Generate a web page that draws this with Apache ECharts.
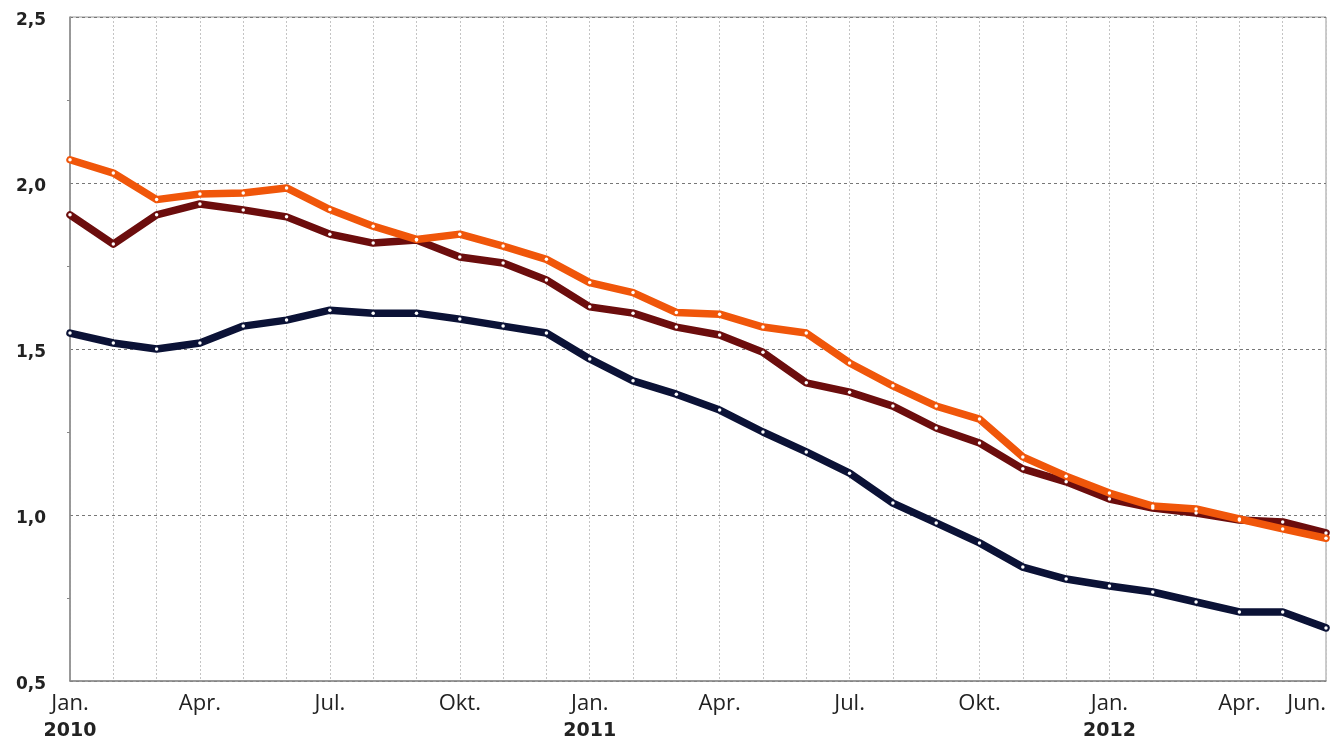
<!DOCTYPE html>
<html>
<head>
<meta charset="utf-8">
<style>
  html, body { margin: 0; padding: 0; background: #fff; }
  #chart { width: 1332px; height: 741px; }
</style>
<script src="https://cdn.jsdelivr.net/npm/echarts@6/dist/echarts.min.js"></script>
</head>
<body>
<div id="chart"></div>
<script>
// months Jan 2010 .. Jun 2012
const months = [
  '2010-01', '2010-02', '2010-03', '2010-04', '2010-05', '2010-06',
  '2010-07', '2010-08', '2010-09', '2010-10', '2010-11', '2010-12',
  '2011-01', '2011-02', '2011-03', '2011-04', '2011-05', '2011-06',
  '2011-07', '2011-08', '2011-09', '2011-10', '2011-11', '2011-12',
  '2012-01', '2012-02', '2012-03', '2012-04', '2012-05', '2012-06'
]

// tick labels shown under the axis (missing = no label)
const monthLabels = {
  '2010-01': 'Jan.\n2010', '2010-04': 'Apr.', '2010-07': 'Jul.', '2010-10': 'Okt.',
  '2011-01': 'Jan.\n2011', '2011-04': 'Apr.', '2011-07': 'Jul.', '2011-10': 'Okt.',
  '2012-01': 'Jan.\n2012', '2012-04': 'Apr.', '2012-06': 'Jun.'
}

const orangeValues = [
  2.07, 2.03, 1.95, 1.967, 1.97, 1.985, 1.92, 1.87, 1.83, 1.846,
  1.81, 1.77, 1.70, 1.67, 1.61, 1.605, 1.566, 1.548, 1.458, 1.389,
  1.328, 1.289, 1.175, 1.117, 1.066, 1.027, 1.018, 0.988, 0.958, 0.93
]

const maroonValues = [
  1.904, 1.816, 1.904, 1.937, 1.919, 1.898, 1.846, 1.819, 1.828, 1.777,
  1.759, 1.708, 1.627, 1.608, 1.566, 1.542, 1.49, 1.398, 1.37, 1.328,
  1.262, 1.217, 1.139, 1.10, 1.048, 1.021, 1.006, 0.985, 0.979, 0.946
]

const navyValues = [
  1.548, 1.518, 1.50, 1.518, 1.569, 1.587, 1.617, 1.608, 1.608, 1.59,
  1.569, 1.548, 1.47, 1.404, 1.364, 1.316, 1.25, 1.19, 1.126, 1.036,
  0.976, 0.916, 0.843, 0.807, 0.786, 0.768, 0.738, 0.708, 0.708, 0.66
]

const yTicks = [0.5, 1.0, 1.5, 2.0, 2.5]

function lineSeries (name, data, color) {
  return {
    name: name,
    type: 'line',
    data: data,
    symbol: 'circle',
    symbolSize: 3.5,
    showSymbol: true,
    itemStyle: { color: '#fff', borderWidth: 0 },
    lineStyle: { color: color, width: 7.5, join: 'round', cap: 'round' },
    emphasis: { disabled: true },
    animation: false
  }
}

const chart = echarts.init(document.getElementById('chart'))
chart.setOption({
  backgroundColor: '#fff',
  animation: false,
  grid: {
    left: 70,
    right: 6,
    top: 17,
    bottom: 60,
    show: true,
    borderColor: '#999',
    borderWidth: 1
  },
  xAxis: {
    type: 'category',
    data: months,
    boundaryGap: false,
    axisLine: { show: true, lineStyle: { color: '#888', width: 1.5 } },
    axisTick: { show: false },
    axisLabel: {
      interval: 0,
      margin: 10,
      alignMaxLabel: 'right',
      formatter: m => {
        const text = monthLabels[m]
        if (!text) return ''
        const parts = text.split('\n')
        return parts.length > 1 ? `{m|${parts[0]}}\n{y|${parts[1]}}` : `{m|${parts[0]}}`
      },
      rich: {
        m: { fontFamily: 'Open Sans', fontWeight: 500, fontSize: 22, color: '#222', lineHeight: 26 },
        y: { fontFamily: 'DejaVu Sans', fontWeight: 'bold', fontSize: 19, color: '#222', lineHeight: 28 }
      }
    },
    splitLine: {
      show: true,
      interval: 0,
      lineStyle: { color: '#c4c4c4', type: [2, 2], width: 1 }
    }
  },
  yAxis: {
    type: 'value',
    min: yTicks[0],
    max: yTicks[yTicks.length - 1],
    interval: 0.5,
    axisLine: { show: true, lineStyle: { color: '#888', width: 1.5 } },
    axisTick: { show: false },
    minorTick: { show: true, splitNumber: 2, length: 3, lineStyle: { color: '#888' } },
    axisLabel: {
      margin: 24,
      verticalAlign: 'top',
      lineHeight: 8,
      fontFamily: 'DejaVu Sans',
      fontWeight: 'bold',
      fontSize: 17,
      color: '#222',
      formatter: v => v.toFixed(1).replace('.', ',')
    },
    splitLine: {
      show: true,
      lineStyle: { color: '#777', type: [3, 3], width: 1 }
    }
  },
  series: [
    lineSeries('navy', navyValues, '#0b1236'),
    lineSeries('maroon', maroonValues, '#6c0d0d'),
    lineSeries('orange', orangeValues, '#f0560a')
  ]
})
</script>
</body>
</html>
